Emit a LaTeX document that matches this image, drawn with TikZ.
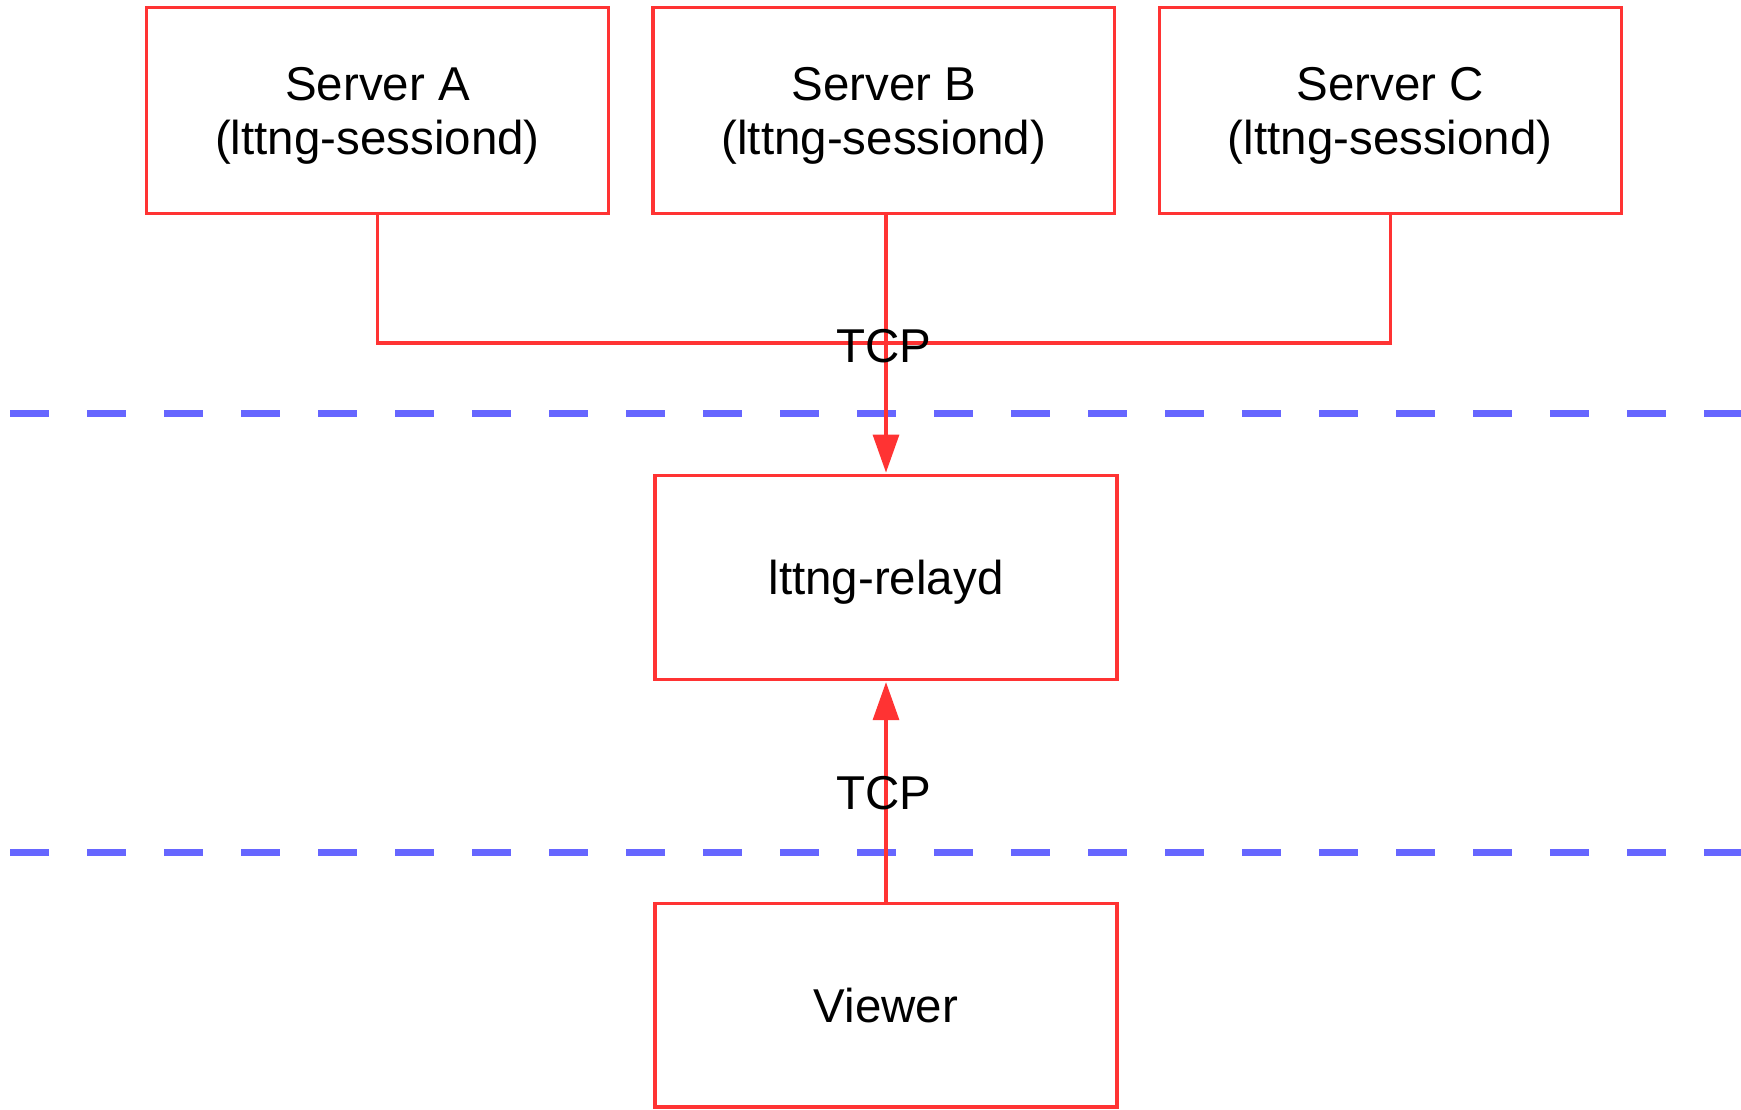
\documentclass[tikz,border=0pt]{standalone}
\usepackage{fontspec}
\setmainfont{Liberation Sans}
\usetikzlibrary{arrows.meta}
\definecolor{boxred}{HTML}{FF3333}
\definecolor{sepblue}{HTML}{6666FF}
\newcommand{\twolines}[2]{\begin{tabular}[t]{@{}c@{}}#1\\#2\end{tabular}}
\begin{document}
\begin{tikzpicture}[x=1pt,y=-1pt,
  box/.style={draw=boxred,line width=3.2pt,minimum width=462pt,minimum height=205pt,
    inner sep=0pt,font=\fontsize{47.5}{53.3}\selectfont,
    text height=34pt,text depth=0pt},
  srvbox/.style={box,minimum width=461.8pt,minimum height=205.4pt,text depth=53.3pt},
  link/.style={draw=boxred,line width=3.2pt},
  arrowlink/.style={link,-{Triangle[width=26pt,length=38pt]},shorten >=1pt},
  sep/.style={draw=sepblue,line width=7pt,dash pattern=on 38.5pt off 38.5pt},
  tag/.style={font=\fontsize{47.5}{53}\selectfont,inner sep=0pt,
    text height=34pt,text depth=0pt}]
  \useasboundingbox (0,0) rectangle (1741,1109);
  % separators between the tiers
  \coordinate (s1a) at (10,413.5);  \coordinate (s1b) at (1741,413.5);
  \coordinate (s2a) at (10,852);    \coordinate (s2b) at (1741,852);
  \draw[sep] (s1a) -- (s1b);
  \draw[sep] (s2a) -- (s2b);
  % session daemons
  \node[srvbox] (A) at (377.5,110.5) {\twolines{Server A}{(lttng-sessiond)}};
  \node[srvbox] (B) at (883.8,110.5) {\twolines{Server B}{(lttng-sessiond)}};
  \node[srvbox] (C) at (1390.2,110.5) {\twolines{Server C}{(lttng-sessiond)}};
  % relay daemon and viewer
  \node[box,minimum height=204.3pt] (R) at (886,577.35) {lttng-relayd};
  \node[box,minimum height=203.2pt] (V) at (886,1005.4) {Viewer};
  % streaming links
  \coordinate (bus) at (886,343);
  \draw[link] (A.south) |- (bus);
  \draw[link] (C.south) |- (bus);
  \draw[arrowlink] (B.south -| R.north) -- (R.north);
  \draw[arrowlink] (V.north) -- (R.south);
  \node[tag] (t1) at (884,345) {TCP};
  \node[tag] (t2) at (884,792) {TCP};
\end{tikzpicture}
\end{document}
